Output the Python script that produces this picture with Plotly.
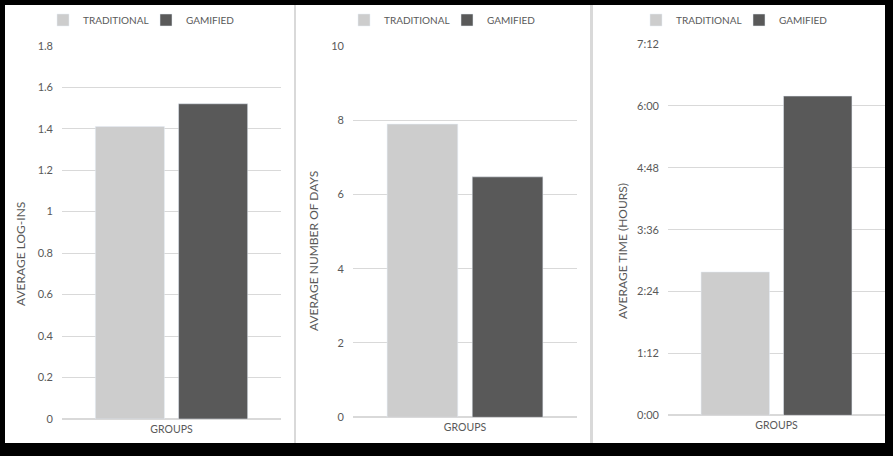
import plotly.graph_objects as go

W, H = 893, 456

categories = ["GROUPS"]
series_names = ["TRADITIONAL", "GAMIFIED"]

# Panel 1: average log-ins
logins_traditional = [1.41]
logins_gamified = [1.52]
# Panel 2: average number of days
days_traditional = [7.89]
days_gamified = [6.47]
# Panel 3: average time (hours, decimal)
time_traditional = [2.78]
time_gamified = [6.19]

time_tickvals = [0, 1.2, 2.4, 3.6, 4.8, 6.0, 7.2]
time_ticktext = ["0:00", "1:12", "2:24", "3:36", "4:48", "6:00", "7:12"]

axis_titles = ["AVERAGE LOG-INS", "AVERAGE NUMBER OF DAYS", "AVERAGE TIME (HOURS)"]

COL_TRAD = "#cdcdcd"
COL_GAM = "#595959"
TXT = "#595959"
GRID = "#d9d9d9"
FONT = "Lato"


def px_x(p):
    return p / W


def px_y(p):
    return 1 - p / H


fig = go.Figure()

panels = [
    dict(trad=logins_traditional, gam=logins_gamified, x=(62, 281), y=(45.7, 419), rng=[0, 1.8], dtick=0.2,
         legend="legend", lx=146, tx=21, ty=254),
    dict(trad=days_traditional, gam=days_gamified, x=(353, 577), y=(45.7, 417.3), rng=[0, 10], dtick=2,
         legend="legend2", lx=447, tx=313, ty=251),
    dict(trad=time_traditional, gam=time_gamified, x=(668, 885), y=(44, 415.3), rng=[0, 7.2], dtick=1.2,
         legend="legend3", lx=739, tx=622, ty=251),
]

layout = dict(
    width=W, height=H,
    margin=dict(l=0, r=0, t=0, b=0, pad=0, autoexpand=False),
    paper_bgcolor="#000000",
    plot_bgcolor="#ffffff",
    barmode="group",
    bargap=0.24,
    bargroupgap=0.17,
    font=dict(family=FONT, size=11, color=TXT),
    shapes=[],
    annotations=[],
)

# panel frames
frames = [(5, 294), (296, 590), (593, 885)]
layout["shapes"].append(dict(type="rect", xref="paper", yref="paper", x0=px_x(5), x1=px_x(885),
                             y0=px_y(443), y1=px_y(5), fillcolor="#d9d9d9", line=dict(width=0), layer="below"))
for a, b in frames:
    layout["shapes"].append(dict(type="rect", xref="paper", yref="paper", x0=px_x(a), x1=px_x(b),
                                 y0=px_y(443), y1=px_y(5), fillcolor="#ffffff", line=dict(width=0), layer="below"))

for i, p in enumerate(panels):
    n = "" if i == 0 else str(i + 1)
    xa, ya = "x" + n, "y" + n
    fig.add_trace(go.Bar(x=categories, y=p["trad"], name=series_names[0], marker_color=COL_TRAD,
                         xaxis=xa, yaxis=ya, legend=p["legend"], hoverinfo="skip"))
    fig.add_trace(go.Bar(x=categories, y=p["gam"], name=series_names[1], marker_color=COL_GAM,
                         xaxis=xa, yaxis=ya, legend=p["legend"], hoverinfo="skip"))
    yax = dict(domain=[px_y(p["y"][1]), px_y(p["y"][0])], range=p["rng"], anchor=xa,
               showgrid=True, gridcolor=GRID, gridwidth=1, zeroline=True, zerolinecolor=GRID,
               showline=False, ticks="", tickfont=dict(size=11, color=TXT), ticklabelstandoff=8,
               automargin=False)
    if i == 2:
        yax.update(tickmode="array", tickvals=time_tickvals, ticktext=time_ticktext)
    else:
        yax.update(tick0=0, dtick=p["dtick"])
    xax = dict(domain=[px_x(p["x"][0]), px_x(p["x"][1])], anchor=ya, showgrid=False, zeroline=False,
               showline=False, ticks="", tickfont=dict(size=10.5, color=TXT), automargin=False,
               ticklabelstandoff=2)
    layout["xaxis" + n] = xax
    layout["yaxis" + n] = yax
    layout[p["legend"]] = dict(orientation="h", x=px_x(p["lx"]), xanchor="center", y=px_y(20),
                               yanchor="middle", font=dict(size=10, color=TXT), bgcolor="rgba(0,0,0,0)",
                               itemwidth=30, tracegroupgap=0, entrywidthmode="pixels", entrywidth=58)
    layout["annotations"].append(dict(text=axis_titles[i], xref="paper", yref="paper", x=px_x(p["tx"]),
                                      y=px_y(p["ty"]), textangle=-90, showarrow=False,
                                      font=dict(size=12, color=TXT), xanchor="center", yanchor="middle"))

fig.update_layout(**layout)
fig.write_html("out.html")
